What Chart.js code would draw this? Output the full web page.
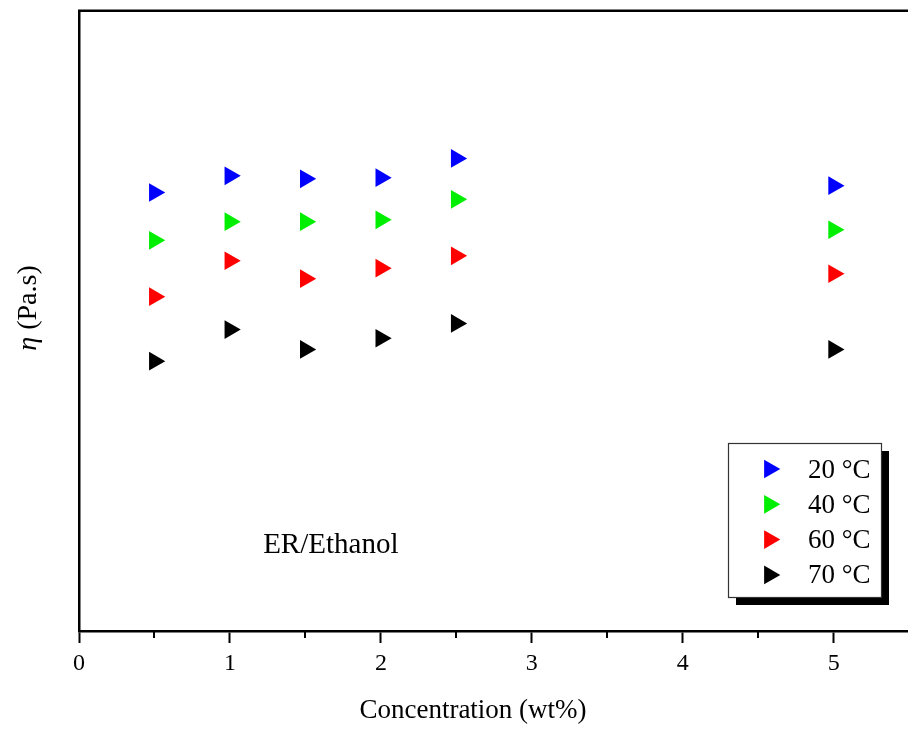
<!DOCTYPE html>
<html>
<head>
<meta charset="utf-8">
<script src="https://cdn.jsdelivr.net/npm/chart.js@4/dist/chart.umd.min.js"></script>
<style>
  html, body { margin: 0; padding: 0; background: #ffffff; overflow: hidden; }
  #wrap { width: 920px; height: 729px; }
</style>
</head>
<body>
<div id="wrap"><canvas id="c" width="920" height="729"></canvas></div>
<script>
// Polymer concentration in ethanol (wt%)
const concentrations = [0.5, 1, 1.5, 2, 2.5, 5];

// Viscosity (arbitrary units) at each temperature
const eta20 = [7.07, 7.34, 7.29, 7.31, 7.62, 7.18];
const eta40 = [6.30, 6.60, 6.60, 6.63, 6.96, 6.47];
const eta60 = [5.39, 5.97, 5.68, 5.85, 6.05, 5.76];
const eta70 = [4.35, 4.86, 4.54, 4.72, 4.96, 4.54];

const seriesLabels = ['20 °C', '40 °C', '60 °C', '70 °C'];
const seriesColors = ['#0000ff', '#00ee00', '#ff0000', '#000000'];
const xTicks = [0, 1, 2, 3, 4, 5];
const xMinorTicks = [0.5, 1.5, 2.5, 3.5, 4.5];

const SERIF = '"Liberation Serif", "Times New Roman", serif';
const MARK_R = 10.8;

function toPoints(ys) {
  return concentrations.map((x, i) => ({ x: x, y: ys[i] }));
}

const datasets = [eta20, eta40, eta60, eta70].map((ys, i) => ({
  label: seriesLabels[i],
  data: toPoints(ys),
  pointStyle: 'triangle',
  rotation: 90,
  radius: MARK_R,
  hoverRadius: MARK_R,
  borderWidth: 0,
  backgroundColor: seriesColors[i],
  borderColor: seriesColors[i],
  showLine: false
}));

function drawRightTriangle(ctx, x, y, r, color) {
  ctx.save();
  ctx.fillStyle = color;
  ctx.beginPath();
  ctx.moveTo(x + r, y);
  ctx.lineTo(x - r / 2, y - r * Math.sqrt(3) / 2);
  ctx.lineTo(x - r / 2, y + r * Math.sqrt(3) / 2);
  ctx.closePath();
  ctx.fill();
  ctx.restore();
}

// Frame top edge, minor ticks, axis titles, annotation and boxed legend
const decorations = {
  id: 'decorations',
  afterDraw(chart) {
    const ctx = chart.ctx;
    const area = chart.chartArea;
    const xs = chart.scales.x;
    const ys = chart.scales.y;
    ctx.save();

    // top frame line
    ctx.strokeStyle = '#000';
    ctx.lineWidth = 2.5;
    ctx.beginPath();
    ctx.moveTo(area.left - 1, area.top);
    ctx.lineTo(area.right + 10, area.top);
    ctx.stroke();

    // minor ticks on the x axis
    ctx.lineWidth = 2;
    xMinorTicks.forEach(v => {
      const px = Math.round(xs.getPixelForValue(v));
      ctx.beginPath();
      ctx.moveTo(px, area.bottom);
      ctx.lineTo(px, area.bottom + 7);
      ctx.stroke();
    });

    // x axis title
    ctx.fillStyle = '#000';
    ctx.font = '27px ' + SERIF;
    ctx.textAlign = 'center';
    ctx.textBaseline = 'alphabetic';
    ctx.fillText('Concentration (wt%)', 473, area.bottom + 87);

    // y axis title with italic eta
    ctx.save();
    ctx.translate(36, 308);
    ctx.rotate(-Math.PI / 2);
    ctx.textBaseline = 'alphabetic';
    ctx.textAlign = 'left';
    const italic = 'italic 28px ' + SERIF;
    const normal = '28px ' + SERIF;
    ctx.font = italic;
    const w1 = ctx.measureText('\u03b7').width;
    ctx.font = normal;
    const w2 = ctx.measureText(' (Pa.s)').width;
    const start = -(w1 + w2) / 2;
    ctx.font = italic;
    ctx.fillText('\u03b7', start, 0);
    ctx.font = normal;
    ctx.fillText(' (Pa.s)', start + w1, 0);
    ctx.restore();

    // sample annotation
    ctx.font = '29px ' + SERIF;
    ctx.textAlign = 'left';
    ctx.fillText('ER/Ethanol', xs.getPixelForValue(1.22), ys.getPixelForValue(1.25));

    // legend box with drop shadow
    const bx = 728, by = 443, bw = 153, bh = 154, sh = 8;
    ctx.fillStyle = '#000';
    ctx.fillRect(bx + sh, by + sh, bw, bh);
    ctx.fillStyle = '#fff';
    ctx.fillRect(bx, by, bw, bh);
    ctx.strokeStyle = '#333';
    ctx.lineWidth = 1.2;
    ctx.strokeRect(bx + 0.5, by + 0.5, bw, bh);

    ctx.font = '27px ' + SERIF;
    ctx.textAlign = 'left';
    ctx.textBaseline = 'alphabetic';
    chart.data.datasets.forEach((ds, i) => {
      const cy = 469 + i * 35.3;
      drawRightTriangle(ctx, 769.5, cy, MARK_R, ds.backgroundColor);
      ctx.fillStyle = '#000';
      ctx.fillText(ds.label, 808, cy + 8.5);
    });

    ctx.restore();
  }
};

new Chart(document.getElementById('c'), {
  type: 'scatter',
  data: { datasets: datasets },
  options: {
    responsive: false,
    animation: false,
    layout: { padding: { top: 10, right: 6, left: 0, bottom: 0 } },
    plugins: {
      legend: { display: false },
      tooltip: { enabled: false }
    },
    scales: {
      x: {
        type: 'linear',
        min: 0,
        max: 5.5,
        afterFit(scale) { scale.height = 98; },
        afterBuildTicks(scale) { scale.ticks = xTicks.map(v => ({ value: v })); },
        ticks: {
          stepSize: 1,
          includeBounds: false,
          padding: 6,
          color: '#000',
          font: { family: SERIF, size: 24 },
          maxRotation: 0,
          callback: v => String(v)
        },
        grid: {
          display: true,
          drawOnChartArea: false,
          drawTicks: true,
          tickLength: 12,
          tickWidth: 2,
          tickColor: '#000'
        },
        border: { display: true, color: '#000', width: 2.5 }
      },
      y: {
        type: 'linear',
        min: 0,
        max: 10,
        afterFit(scale) { scale.width = 79; },
        ticks: { display: false },
        grid: { display: false, drawTicks: false },
        border: { display: true, color: '#000', width: 2.5 }
      }
    }
  },
  plugins: [decorations]
});
</script>
</body>
</html>
